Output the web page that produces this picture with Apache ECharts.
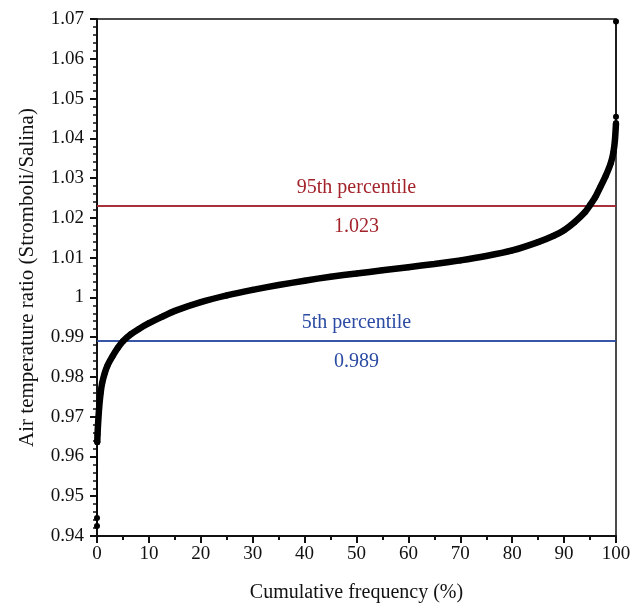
<!DOCTYPE html>
<html>
<head>
<meta charset="utf-8">
<script src="https://cdn.jsdelivr.net/npm/echarts@6/dist/echarts.min.js"></script>
<style>html,body{margin:0;padding:0;background:#fff}#c{width:642px;height:604px}</style>
</head>
<body>
<div id="c"></div>
<script>
// Cumulative frequency (%) and air temperature ratio
const cumFreq = [0.05, 0.1, 0.2, 0.4, 0.7, 1, 1.5, 2, 3, 4, 5, 6.5, 8, 10, 12.5, 15, 20, 25, 30, 35, 40, 45, 50, 55, 60, 65, 70, 75, 80, 85, 88, 90, 92, 94, 95, 96, 97, 98, 99, 99.5, 99.8, 100];
const ratio   = [0.9636, 0.9655, 0.968, 0.972, 0.976, 0.9785, 0.981, 0.9828, 0.9852, 0.9873, 0.989, 0.9907, 0.9920, 0.9935, 0.9951, 0.9966, 0.9988, 1.0005, 1.0019, 1.0031, 1.0042, 1.0052, 1.0060, 1.0068, 1.0076, 1.0084, 1.0093, 1.0104, 1.0118, 1.0139, 1.0155, 1.0169, 1.0189, 1.0214, 1.0232, 1.0252, 1.0278, 1.0305, 1.0338, 1.0365, 1.0396, 1.0438];
// isolated extreme points
const lowFreq = [0, 0, 0.05];
const lowRatio = [0.9425, 0.9445, 0.9636];
const highFreq = [100, 100, 100];
const highRatio = [1.0438, 1.0454, 1.0694];
// percentile reference lines
const pctNames = ['5th percentile', '95th percentile'];
const pctValues = [0.989, 1.023];
const pctColors = ['#2b4ba3', '#a3232b'];

const font = 'Liberation Serif';
const zip = (a, b) => a.map((v, i) => [v, b[i]]);

const markData = [];
pctValues.forEach((v, i) => {
  markData.push({yAxis: v, lineStyle: {color: pctColors[i], width: 1.5, type: 'solid'},
    label: {formatter: pctNames[i], position: 'insideMiddleTop', distance: 8, color: pctColors[i], fontFamily: font, fontSize: 20}});
  markData.push({yAxis: v, lineStyle: {color: pctColors[i], width: 1.5, type: 'solid'},
    label: {formatter: v.toFixed(3), position: 'insideMiddleBottom', distance: 11, color: pctColors[i], fontFamily: font, fontSize: 20}});
});

const chart = echarts.init(document.getElementById('c'), null, {renderer: 'canvas'});
chart.setOption({
  animation: false,
  grid: {left: 97, right: 26, top: 19, bottom: 68, containLabel: false, outerBoundsMode: 'none',
    show: true, borderColor: '#111', borderWidth: 1.5, backgroundColor: 'transparent'},
  xAxis: {
    type: 'value', min: 0, max: 100, interval: 10,
    name: 'Cumulative frequency (%)', nameLocation: 'middle', nameGap: 47,
    nameTextStyle: {fontFamily: font, fontSize: 20, color: '#111'},
    axisLine: {onZero: false, lineStyle: {color: '#111', width: 2}},
    axisTick: {show: true, length: 7, inside: false, lineStyle: {color: '#111', width: 2}},
    minorTick: {show: true, splitNumber: 2, length: 4, lineStyle: {color: '#111', width: 2}},
    splitLine: {show: false},
    axisLabel: {fontFamily: font, fontSize: 19, color: '#111', margin: 9}
  },
  yAxis: {
    type: 'value', min: 0.94, max: 1.07, interval: 0.01,
    name: 'Air temperature ratio (Stromboli/Salina)', nameLocation: 'middle', nameGap: 59,
    nameTextStyle: {fontFamily: font, fontSize: 21, color: '#111'},
    axisLine: {onZero: false, lineStyle: {color: '#111', width: 2}},
    axisTick: {show: true, length: 7, lineStyle: {color: '#111', width: 2}},
    minorTick: {show: true, splitNumber: 5, length: 4, lineStyle: {color: '#111', width: 1.5}},
    splitLine: {show: false},
    axisLabel: {fontFamily: font, fontSize: 19, color: '#111', margin: 13,
      formatter: v => String(+v.toFixed(2))}
  },
  series: [
    {
      type: 'line', data: zip(cumFreq, ratio), smooth: 0.2,
      showSymbol: true, symbol: 'circle', symbolSize: 6,
      itemStyle: {color: '#000'}, lineStyle: {color: '#000', width: 6.5},
      z: 3,
      markLine: {silent: true, symbol: 'none', precision: 4, data: markData, z: 2}
    },
    {
      type: 'line', data: zip(lowFreq, lowRatio), symbol: 'circle', symbolSize: 6,
      itemStyle: {color: '#000'}, lineStyle: {color: '#000', width: 1.2}, z: 3
    },
    {
      type: 'line', data: zip(highFreq, highRatio), symbol: 'circle', symbolSize: 6,
      itemStyle: {color: '#000'}, lineStyle: {color: '#000', width: 1.2}, z: 3
    }
  ]
});
</script>
</body>
</html>
